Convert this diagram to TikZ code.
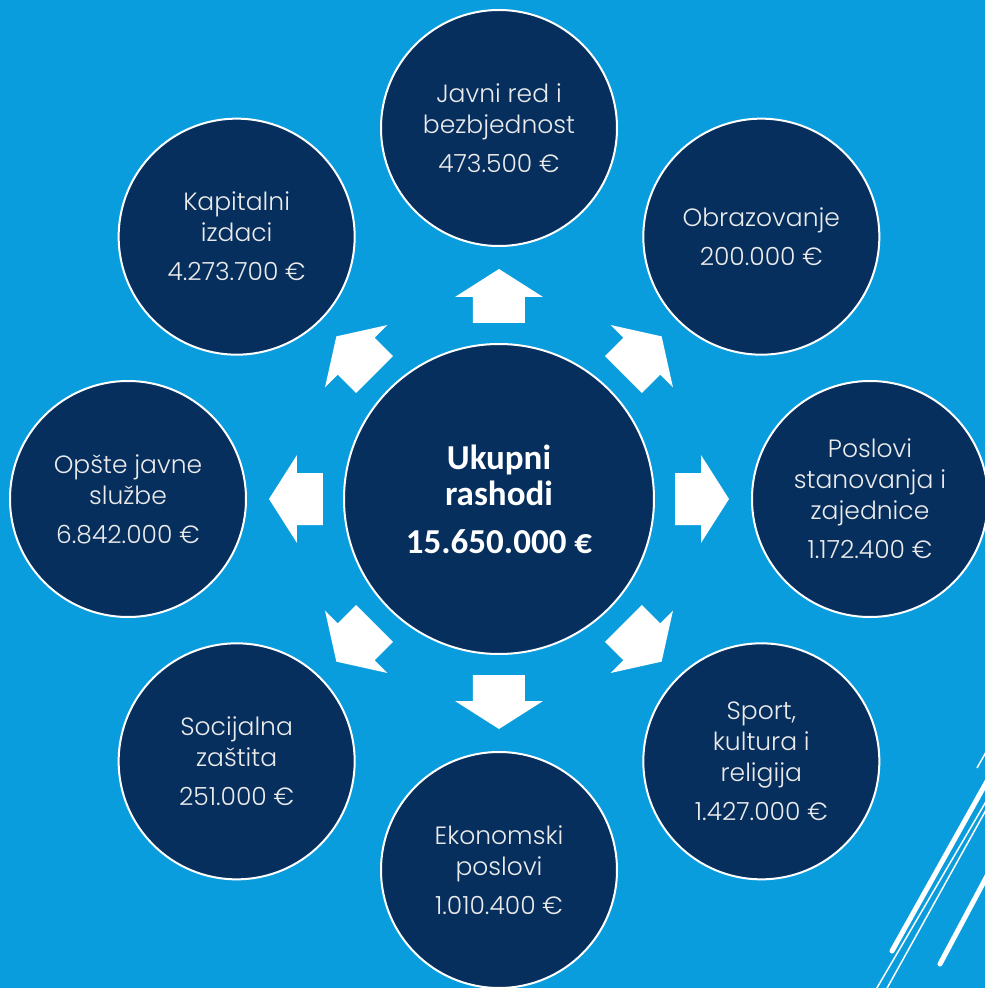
\documentclass[tikz,border=0pt]{standalone}
\usepackage{fontspec}
\setmainfont{Poppins Light}
\newfontfamily\hubfont{Carlito}
\definecolor{bgblue}{RGB}{10,157,221}
\definecolor{navy}{RGB}{6,47,94}
\tikzset{
  bubble/.style={circle, draw=white, line width=2pt, fill=navy, minimum size=236pt,
    inner sep=0pt, align=center, text=white!92!black, font=\fontsize{25}{31}\selectfont},
  hub/.style={bubble, minimum size=310pt, text=white,
    font=\hubfont\bfseries\fontsize{35}{36}\selectfont},
  deco/.style={white, line width=1.5pt},
}
\begin{document}
\begin{tikzpicture}[x=1pt,y=1pt]
  \fill[bgblue] (-499,-489) rectangle (486,499);
  \useasboundingbox (-499,-489) rectangle (486,499);
  \node[hub] (total) at (0,0) {Ukupni\\rashodi\\[12pt]15.650.000 €};
  \node[bubble] (red) at (90:371) {Javni red i\\bezbjednost\\[8pt]473.500 €};
  \node[bubble] (obraz) at (45:371) {Obrazovanje\\[8pt]200.000 €};
  \node[bubble] (stan) at (0:371) {Poslovi\\stanovanja i\\zajednice\\[8pt]1.172.400 €};
  \node[bubble] (sport) at (-45:371) {Sport,\\kultura i\\religija\\[8pt]1.427.000 €};
  \node[bubble] (ekon) at (-90:371) {Ekonomski\\poslovi\\[8pt]1.010.400 €};
  \node[bubble] (soc) at (-135:371) {Socijalna\\zaštita\\[8pt]251.000 €};
  \node[bubble] (opste) at (180:371) {Opšte javne\\službe\\[8pt]6.842.000 €};
  \node[bubble] (kap) at (135:371) {Kapitalni\\izdaci\\[8pt]4.273.700 €};
  % block arrows from the hub outwards
  \foreach \a in {0,45,...,315}
    \fill[white, shift={(total.center)}, rotate=\a]
      (176,-26) -- (202,-26) -- (202,-44) -- (230,0) -- (202,44) -- (202,26) -- (176,26) -- cycle;
  % corner strokes
  \begin{scope}
    \clip (-499,-489) rectangle (486,499);
    \draw[deco] (478,-269) -- (491,-246);%
    \draw[deco, line width=5pt, line cap=round] (393,-452) -- (496,-268);%
    \draw[deco] (372,-499) -- (492,-294);%
    \draw[deco] (382,-500) -- (492,-302);%
    \draw[deco, line width=5pt, line cap=round] (441,-465) -- (496,-362);%
  \end{scope}
\end{tikzpicture}
\end{document}
